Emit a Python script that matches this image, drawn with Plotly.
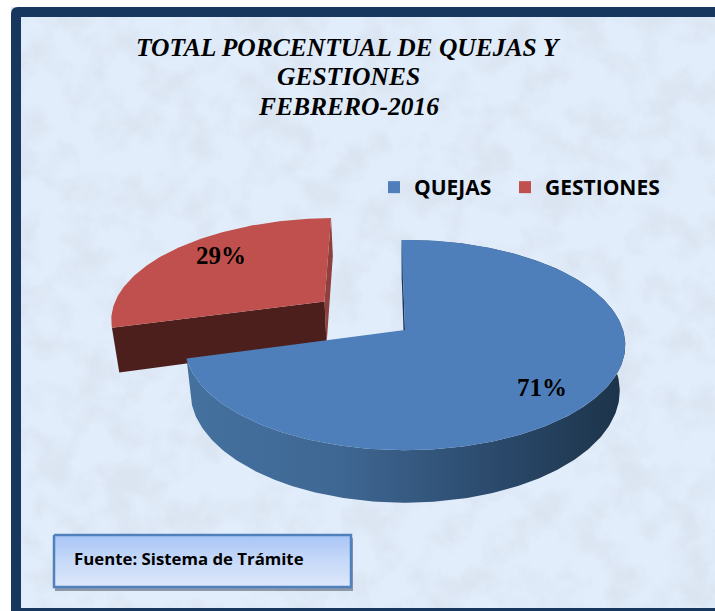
import base64
import math
import plotly.graph_objects as go

# ---- data ----
categories = ["QUEJAS", "GESTIONES"]
values = [71, 29]
title_lines = ["TOTAL PORCENTUAL DE QUEJAS Y", "GESTIONES", "FEBRERO-2016"]
source_note = "Fuente: Sistema de Trámite"

# ---- pie projection settings (pixels of the 715x611 canvas) ----
CX, CY = 405, 330
RX, RY = 218, 103
PERSP = 1 / 7
DEPTH = 45
START = -1.0
EXPLODE = [0.0, 0.48]


def project(X, Y, drop=False):
    s = 1 / (1 + PERSP * Y)
    x, y = RX * X * s, -RY * Y * s
    if drop:
        return CX + x * 0.975, CY + y + DEPTH * s
    return CX + x, CY + y


def slice_geometry(a0, a1, off):
    bis = math.radians((a0 + a1) / 2)
    ox, oy = off * math.sin(bis), off * math.cos(bis)
    n = max(8, int(abs(a1 - a0)))
    arc = [(ox + math.sin(math.radians(a0 + (a1 - a0) * i / n)),
            oy + math.cos(math.radians(a0 + (a1 - a0) * i / n))) for i in range(n + 1)]
    return (ox, oy), arc, bis


def poly(points, drop_flags=None, **kw):
    xs, ys = [], []
    for i, (X, Y) in enumerate(points):
        px, py = project(X, Y, drop_flags[i] if drop_flags else False)
        xs.append(px)
        ys.append(py)
    xs.append(xs[0])
    ys.append(ys[0])
    return go.Scatter(x=xs, y=ys, mode="lines", fill="toself", showlegend=False,
                      hoverinfo="skip", **kw)


total = sum(values)
angles = []
a = START
for v in values:
    b = a + 360 * v / total
    angles.append((a, b))
    a = b

fig = go.Figure()
NOLINE = dict(width=0)

# GESTIONES slice (behind)
apex, arc, bis = slice_geometry(*angles[1], EXPLODE[1])
left, right = arc[0], arc[-1]
fig.add_trace(poly([apex, right, right, apex], [False, False, True, True],
                   fillcolor="#8f3f3c", line=NOLINE))
fig.add_trace(poly([apex, left, left, apex], [False, False, True, True],
                   fillcolor="#4d1f1c", line=NOLINE))
fig.add_trace(poly([apex] + arc, fillcolor="#c0504d", line=NOLINE))
r = 0.7
lbl_red = project(apex[0] + r * math.sin(bis), apex[1] + r * math.cos(bis))

# QUEJAS slice (front)
apex, arc, bis = slice_geometry(*angles[0], EXPLODE[0])
start = arc[0]
fig.add_trace(poly([apex, start, start, apex], [False, False, True, True],
                   fillcolor="#17375e", line=NOLINE))
side = arc + arc[::-1]
flags = [False] * len(arc) + [True] * len(arc)
fig.add_trace(poly(side, flags, line=NOLINE,
                   fillgradient=dict(type="horizontal",
                                     colorscale=[[0, "#44719f"], [0.35, "#3f6793"],
                                                 [0.7, "#2b4a6c"], [1, "#1c3349"]])))
fig.add_trace(poly([apex] + arc, fillcolor="#4e7fba", line=NOLINE))
r = 0.72
lbl_blue = project(apex[0] + r * math.sin(bis), apex[1] + r * math.cos(bis))

# data labels
fig.add_trace(go.Scatter(
    x=[lbl_blue[0] + 3, lbl_red[0] + 3], y=[lbl_blue[1] + 12, lbl_red[1] - 6], mode="text",
    text=[f"{v}%" for v in values], textposition="middle center",
    textfont=dict(family="Liberation Serif", size=25, color="black", weight="bold"),
    showlegend=False, hoverinfo="skip"))

# legend entries, one legend each so the two can be placed independently
for name, col, lg in zip(categories, ["#4e7fba", "#c0504d"], ["legend", "legend2"]):
    fig.add_trace(go.Scatter(x=[None], y=[None], mode="markers", name=name, legend=lg,
                             marker=dict(symbol="square", size=15, color=col)))

# source box
BX0, BX1, BY0, BY1 = 54, 351, 535, 587
fig.add_trace(go.Scatter(x=[BX0, BX1, BX1, BX0, BX0], y=[BY0, BY0, BY1, BY1, BY0],
                         mode="lines", fill="toself", showlegend=False, hoverinfo="skip",
                         line=dict(color="#4f81bd", width=2.5),
                         fillgradient=dict(type="vertical",
                                           colorscale=[[0, "#dde8fb"], [0.5, "#c6d9f8"],
                                                       [1, "#a8c5f6"]])))

# mottled paper background
svg = """<svg xmlns="http://www.w3.org/2000/svg" width="715" height="611">
<filter id="n" x="0" y="0" width="100%" height="100%">
<feTurbulence type="fractalNoise" baseFrequency="0.028" numOctaves="5" seed="7"/>
<feColorMatrix values="0 0 0 0 0.70  0 0 0 0 0.76  0 0 0 0 0.86  3.0 0 0 0 -1.25"/>
</filter>
<rect width="715" height="611" fill="#e1edfb"/>
<rect width="715" height="611" filter="url(#n)" opacity="0.8"/>
</svg>"""
src = "data:image/svg+xml;base64," + base64.b64encode(svg.encode()).decode()

frame = ("M 11 611 L 11 14 Q 11 7 18 7 L 715 7 L 715 17 L 21 17 L 21 608 "
         "L 715 608 L 715 611 Z")
corners = "M 0 0 L 715 0 L 715 7 L 0 7 Z M 0 7 L 11 7 L 11 611 L 0 611 Z"

title_y = [47, 76, 106]
annotations = [dict(x=348, y=yy, xref="x", yref="y", text=f"<b><i>{t}</i></b>", showarrow=False,
                    font=dict(family="Liberation Serif", size=25.5, color="black"))
               for t, yy in zip(title_lines, title_y)]
annotations.append(dict(x=72, y=558, xref="x", yref="y", xanchor="left", showarrow=False,
                        text=f"<b>{source_note}</b>",
                        font=dict(family="Open Sans", size=16.8, color="black")))

legend_common = dict(orientation="h", y=1 - 167 / 611, xanchor="left", yanchor="top",
                     bgcolor="rgba(0,0,0,0)", itemsizing="constant", itemwidth=30,
                     font=dict(family="Open Sans", size=21, color="black", weight="bold"))

fig.update_layout(
    width=715, height=611, margin=dict(l=0, r=0, t=0, b=0), autosize=False,
    paper_bgcolor="white", plot_bgcolor="rgba(0,0,0,0)",
    xaxis=dict(range=[0, 715], visible=False, fixedrange=True),
    yaxis=dict(range=[611, 0], visible=False, fixedrange=True),
    images=[dict(source=src, xref="paper", yref="paper", x=0, y=1, sizex=1, sizey=1,
                 sizing="stretch", layer="below")],
    shapes=[
        dict(type="path", path=corners, fillcolor="white", line_width=0, layer="below"),
        dict(type="path", path=frame, fillcolor="#17375e", line_width=0, layer="below"),
        dict(type="rect", x0=BX0 + 1, x1=BX1 + 2, y0=BY0 + 3, y1=BY1 + 4,
             fillcolor="rgba(40,50,70,0.45)", line_width=0, layer="below"),
    ],
    annotations=annotations,
    legend=dict(x=374 / 715, **legend_common),
    legend2=dict(x=505 / 715, **legend_common),
)
fig.write_html("out.html", post_script="document.body.style.margin='0';",
               config={"displayModeBar": False})
